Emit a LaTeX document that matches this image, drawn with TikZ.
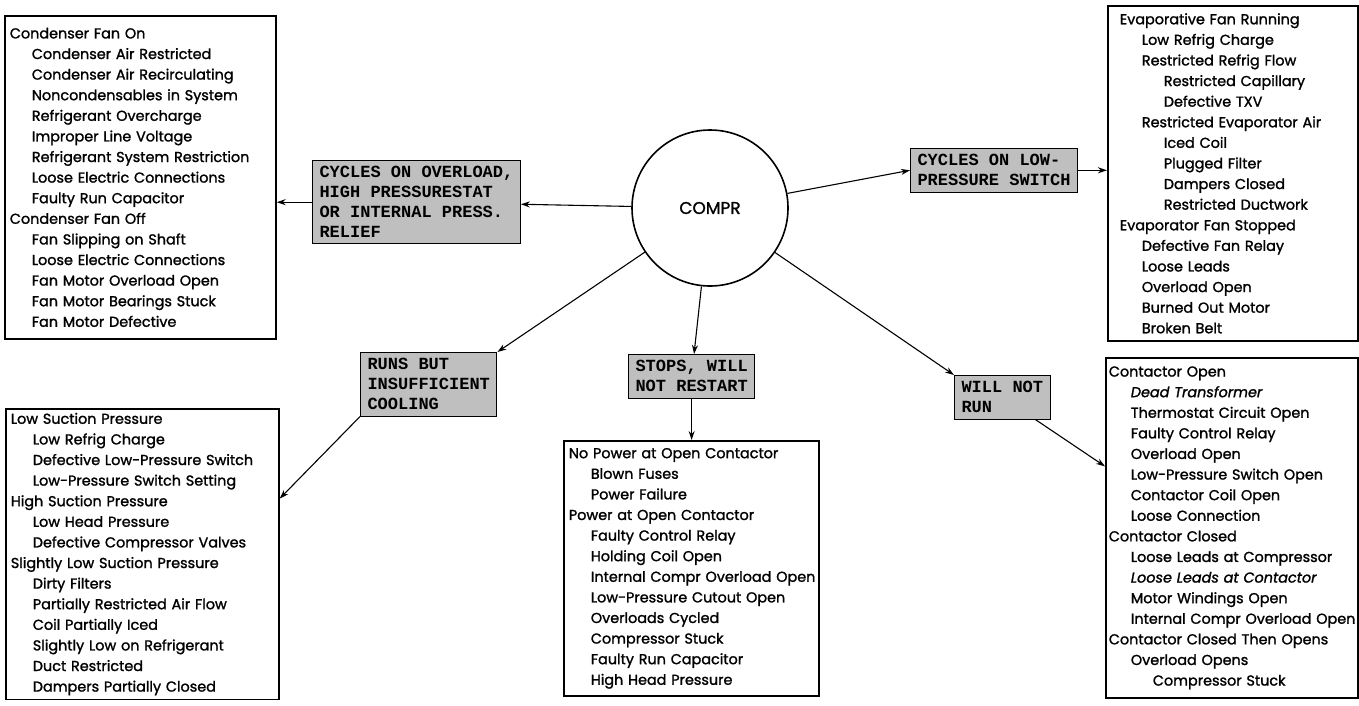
\documentclass[tikz,border=0pt]{standalone}
\usepackage{fontspec}
\setmainfont{Poppins}
\setmonofont{Liberation Mono}
\newfontfamily\listfont{Poppins}[FakeBold=1.4]
\usetikzlibrary{
    arrows.meta,
    positioning,
    calc
}
\newcommand{\one}[1]{\hspace*{22pt}\mbox{#1}}
\newcommand{\two}[1]{\hspace*{44pt}\mbox{#1}}
\tikzset{
    listbox/.style = {
        rectangle,
        draw,
        line width=1.7pt,
        anchor=north west,
        inner xsep=5pt,
        inner ysep=4pt,
        align=left,
        font=\listfont\fontsize{14.4}{20.6}\selectfont
    },
    cause/.style = {
        rectangle,
        draw,
        line width=1pt,
        fill=gray!50,
        anchor=north west,
        inner xsep=7pt,
        inner ysep=6pt,
        align=left,
        font=\ttfamily\bfseries\fontsize{17}{20}\selectfont
    },
    arrow/.style = {
        -{Stealth[length=9pt,width=6pt]},
        line width=1.1pt
    }
}

\begin{document}
\begin{tikzpicture}[x=1pt, y=-1pt]
\useasboundingbox (0,0) rectangle (1359,705);

\node[circle, draw, line width=1.6pt, minimum size=156pt,
    font=\listfont\fontsize{17}{20}\selectfont] (comp) at (710,208) {COMPR};

% cause boxes
\node[cause] (ovl) at (312,160) {CYCLES ON OVERLOAD,\\HIGH PRESSURESTAT\\OR INTERNAL PRESS.\\RELIEF};
\node[cause] (lps) at (910,148) {CYCLES ON LOW-\\PRESSURE SWITCH};
\node[cause] (runs) at (360,352) {RUNS BUT\\INSUFFICIENT\\COOLING};
\node[cause] (stops) at (628,354) {STOPS, WILL\\NOT RESTART};
\node[cause] (wnr) at (954,375) {WILL NOT\\RUN};

% check lists
\node[listbox, text width=261pt, minimum height=323pt] (cond) at (4,15) {
Condenser Fan On\\
\one{Condenser Air Restricted}\\
\one{Condenser Air Recirculating}\\
\one{Noncondensables in System}\\
\one{Refrigerant Overcharge}\\
\one{Improper Line Voltage}\\
\one{Refrigerant System Restriction}\\
\one{Loose Electric Connections}\\
\one{Faulty Run Capacitor}\\
Condenser Fan Off\\
\one{Fan Slipping on Shaft}\\
\one{Loose Electric Connections}\\
\one{Fan Motor Overload Open}\\
\one{Fan Motor Bearings Stuck}\\
\one{Fan Motor Defective}};

\node[listbox, text width=226pt, minimum height=335pt, inner xsep=12pt] (evap) at (1107,5) {
Evaporative Fan Running\\
\one{Low Refrig Charge}\\
\one{Restricted Refrig Flow}\\
\two{Restricted Capillary}\\
\two{Defective TXV}\\
\one{Restricted Evaporator Air}\\
\two{Iced Coil}\\
\two{Plugged Filter}\\
\two{Dampers Closed}\\
\two{Restricted Ductwork}\\
Evaporator Fan Stopped\\
\one{Defective Fan Relay}\\
\one{Loose Leads}\\
\one{Overload Open}\\
\one{Burned Out Motor}\\
\one{Broken Belt}};

\node[listbox, text width=263pt, minimum height=289pt] (suct) at (5,408) {
Low Suction Pressure\\
\one{Low Refrig Charge}\\
\one{Defective Low-Pressure Switch}\\
\one{Low-Pressure Switch Setting}\\
High Suction Pressure\\
\one{Low Head Pressure}\\
\one{Defective Compressor Valves}\\
Slightly Low Suction Pressure\\
\one{Dirty Filters}\\
\one{Partially Restricted Air Flow}\\
\one{Coil Partially Iced}\\
\one{Slightly Low on Refrigerant}\\
\one{Duct Restricted}\\
\one{Dampers Partially Closed}};

\node[listbox, text width=245pt, minimum height=255pt] (power) at (563,440) {
No Power at Open Contactor\\
\one{Blown Fuses}\\
\one{Power Failure}\\
Power at Open Contactor\\
\one{Faulty Control Relay}\\
\one{Holding Coil Open}\\
\one{Internal Compr Overload Open}\\
\one{Low-Pressure Cutout Open}\\
\one{Overloads Cycled}\\
\one{Compressor Stuck}\\
\one{Faulty Run Capacitor}\\
\one{High Head Pressure}};

\node[listbox, text width=246pt, minimum height=340pt, inner xsep=3pt] (cont) at (1105,357) {
Contactor Open\\
\one{\textit{Dead Transformer}}\\
\one{Thermostat Circuit Open}\\
\one{Faulty Control Relay}\\
\one{Overload Open}\\
\one{Low-Pressure Switch Open}\\
\one{Contactor Coil Open}\\
\one{Loose Connection}\\
Contactor Closed\\
\one{Loose Leads at Compressor}\\
\one{\textit{Loose Leads at Contactor}}\\
\one{Motor Windings Open}\\
\one{Internal Compr Overload Open}\\
Contactor Closed Then Opens\\
\one{Overload Opens}\\
\two{Compressor Stuck}};

% connectors
\draw[arrow] (comp) -- (ovl);
\draw[arrow] (ovl.west) -- (ovl.west -| cond.east);
\draw[arrow] (comp) -- (lps.west);
\draw[arrow] (lps.east) -- (lps.east -| evap.west);
\draw[arrow] (comp) -- (runs.north east);
\draw[arrow] (runs.south west) -- ($(suct.north east)!0.31!(suct.south east)$);
\draw[arrow] (comp) -- (stops);
\draw[arrow] (stops.south) -- (stops.south |- power.north);
\draw[arrow] (comp) -- (wnr.north west);
\draw[arrow] (wnr) -- ($(cont.north west)!0.32!(cont.south west)$);
\end{tikzpicture}
\end{document}
